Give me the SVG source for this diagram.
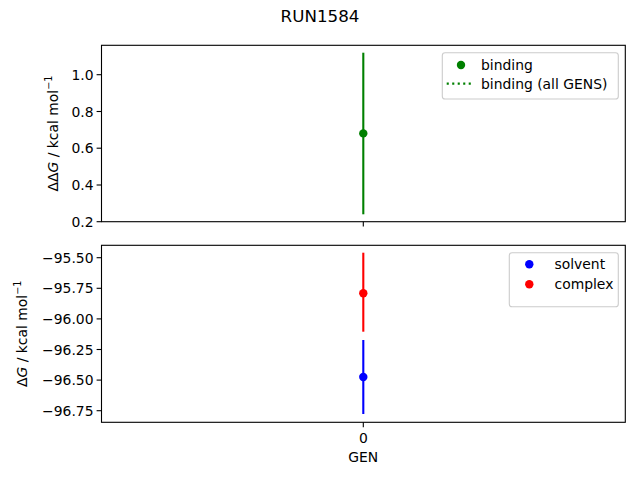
<svg xmlns="http://www.w3.org/2000/svg" width="640" height="480" viewBox="0 0 640 480">
<style>
text{font-family:"DejaVu Sans",sans-serif;font-size:13.9px;fill:#000}
.spine{fill:none;stroke:#000;stroke-width:1.1}
.tick{stroke:#000;stroke-width:1.1}
.yt{text-anchor:end;dominant-baseline:central}
.leg{fill:#fff;fill-opacity:0.8;stroke:#ccc;stroke-width:1.1}
.eb{stroke-width:2.1}
</style>
<rect width="640" height="480" fill="#fff"/>
<text x="320" y="22" text-anchor="middle" style="font-size:16.7px">RUN1584</text>

<g id="top-axes">
<rect class="spine" x="101.5" y="45.3" width="523.8" height="176.4"/>
<g class="tick">
<line x1="96.6" y1="221.7" x2="101.5" y2="221.7"/>
<line x1="96.6" y1="185" x2="101.5" y2="185"/>
<line x1="96.6" y1="148.2" x2="101.5" y2="148.2"/>
<line x1="96.6" y1="111.5" x2="101.5" y2="111.5"/>
<line x1="96.6" y1="74.7" x2="101.5" y2="74.7"/>
<line x1="363.3" y1="221.7" x2="363.3" y2="226.6"/>
</g>
<text class="yt" x="93.5" y="221.7">0.2</text>
<text class="yt" x="93.5" y="185">0.4</text>
<text class="yt" x="93.5" y="148.2">0.6</text>
<text class="yt" x="93.5" y="111.5">0.8</text>
<text class="yt" x="93.5" y="74.7">1.0</text>
<text transform="translate(58,133.5) rotate(-90)" text-anchor="middle">ΔΔ<tspan font-style="italic">G</tspan> / kcal mol<tspan dy="-6" style="font-size:9.7px">−1</tspan></text>
</g>

<g id="bottom-axes">
<rect class="spine" x="101.5" y="245.3" width="523.8" height="177"/>
<g class="tick">
<line x1="96.6" y1="257.7" x2="101.5" y2="257.7"/>
<line x1="96.6" y1="288.3" x2="101.5" y2="288.3"/>
<line x1="96.6" y1="318.9" x2="101.5" y2="318.9"/>
<line x1="96.6" y1="349.5" x2="101.5" y2="349.5"/>
<line x1="96.6" y1="380.1" x2="101.5" y2="380.1"/>
<line x1="96.6" y1="410.7" x2="101.5" y2="410.7"/>
<line x1="363.3" y1="422.3" x2="363.3" y2="427.2"/>
</g>
<text class="yt" x="93.5" y="257.7">−95.50</text>
<text class="yt" x="93.5" y="288.3">−95.75</text>
<text class="yt" x="93.5" y="318.9">−96.00</text>
<text class="yt" x="93.5" y="349.5">−96.25</text>
<text class="yt" x="93.5" y="380.1">−96.50</text>
<text class="yt" x="93.5" y="410.7">−96.75</text>
<text x="363.3" y="443" text-anchor="middle">0</text>
<text x="363.3" y="462" text-anchor="middle">GEN</text>
<text transform="translate(27,333.8) rotate(-90)" text-anchor="middle">Δ<tspan font-style="italic">G</tspan> / kcal mol<tspan dy="-6" style="font-size:9.7px">−1</tspan></text>
</g>

<g id="data">
<line class="eb" x1="363.3" y1="52.7" x2="363.3" y2="214.3" stroke="#008000"/>
<circle cx="363.3" cy="133.4" r="4.2" fill="#008000"/>
<line class="eb" x1="363.3" y1="252.7" x2="363.3" y2="331.7" stroke="#ff0000"/>
<circle cx="363.3" cy="293.3" r="4.2" fill="#ff0000"/>
<line class="eb" x1="363.3" y1="340" x2="363.3" y2="414" stroke="#0000ff"/>
<circle cx="363.3" cy="377" r="4.2" fill="#0000ff"/>
</g>

<g id="legend-top">
<rect class="leg" x="442.3" y="52.7" width="176" height="46.3" rx="2.8"/>
<circle cx="461" cy="65" r="4.2" fill="#008000"/>
<text x="481" y="69.8">binding</text>
<line x1="446.7" y1="83.6" x2="472" y2="83.6" stroke="#008000" stroke-width="2.1" stroke-dasharray="2.1,3.4"/>
<text x="481" y="89">binding (all GENS)</text>
</g>

<g id="legend-bottom">
<rect class="leg" x="509.3" y="252.7" width="109" height="54" rx="2.8"/>
<circle cx="529.3" cy="264.3" r="4.2" fill="#0000ff"/>
<text x="554.5" y="268.8">solvent</text>
<circle cx="529.3" cy="284.3" r="4.2" fill="#ff0000"/>
<text x="554.5" y="288.8">complex</text>
</g>
</svg>
